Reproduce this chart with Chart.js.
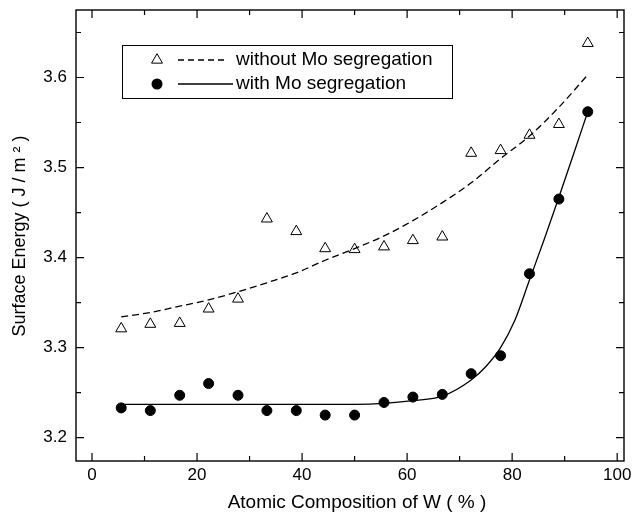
<!DOCTYPE html>
<html>
<head>
<meta charset="utf-8">
<script src="https://cdn.jsdelivr.net/npm/chart.js@4"></script>
<style>
  html, body { margin: 0; padding: 0; background: #fff; }
  #wrap { width: 634px; height: 515px; }
</style>
</head>
<body>
<div id="wrap"><canvas id="chart" width="634" height="515"></canvas></div>
<script>
// measured points (W content in %, surface energy in J/m^2)
const compW = [5.56, 11.1, 16.7, 22.2, 27.8, 33.3, 38.9, 44.4, 50.0, 55.6, 61.1, 66.7, 72.2, 77.8, 83.3, 88.9, 94.4];
const energyNoSeg = [3.321, 3.326, 3.327, 3.343, 3.354, 3.443, 3.429, 3.410, 3.409, 3.412, 3.419, 3.423, 3.516, 3.519, 3.536, 3.548, 3.638];
const energySeg = [3.233, 3.230, 3.247, 3.260, 3.247, 3.230, 3.230, 3.225, 3.225, 3.239, 3.245, 3.248, 3.271, 3.291, 3.382, 3.465, 3.562];

// fitted curves
const fitNoSegX = [5.56, 11.1, 16.7, 22.2, 27.8, 33.3, 38.9, 44.4, 50.0, 55.6, 61.1, 66.7, 72.2, 77.8, 83.3, 88.9, 94.4];
const fitNoSegY = [3.334, 3.339, 3.346, 3.353, 3.362, 3.372, 3.383, 3.397, 3.410, 3.424, 3.441, 3.461, 3.483, 3.510, 3.535, 3.567, 3.603];
const fitSegX = [5.56, 16.7, 27.8, 38.9, 50.0, 55.6, 61.1, 66.7, 72.2, 75.0, 77.8, 80.5, 83.3, 86.1, 88.9, 91.7, 94.4];
const fitSegY = [3.237, 3.237, 3.237, 3.237, 3.237, 3.238, 3.241, 3.246, 3.264, 3.279, 3.300, 3.330, 3.375, 3.420, 3.467, 3.515, 3.562];

const xTicks = [0, 20, 40, 60, 80, 100];
const xMinor = [10, 30, 50, 70, 90];
const yTicks = [3.2, 3.3, 3.4, 3.5, 3.6];
const yMinor = [3.25, 3.35, 3.45, 3.55, 3.65];

const xTitle = 'Atomic Composition of W ( % )';
const yTitle = 'Surface Energy ( J / m ² )';
const legendItems = ['without Mo segregation', 'with Mo segregation'];

const FONT = '"Liberation Sans", Arial, sans-serif';
const pts = (xs, ys) => xs.map((x, i) => ({x: x, y: ys[i]}));

// frame with inward ticks on all four sides, axis titles, boxed legend
const framePlugin = {
    id: 'frame',
    afterDatasetsDraw(chart) {
        const ctx = chart.ctx;
        const a = chart.chartArea;
        const xs = chart.scales.x, ys = chart.scales.y;
        ctx.save();
        ctx.strokeStyle = '#000';
        ctx.lineWidth = 1.4;
        ctx.strokeRect(a.left, a.top, a.right - a.left, a.bottom - a.top);
        ctx.lineWidth = 1.2;
        const tick = (vals, len) => {
            vals.forEach(v => {
                const px = xs.getPixelForValue(v);
                ctx.beginPath();
                ctx.moveTo(px, a.bottom); ctx.lineTo(px, a.bottom - len);
                ctx.moveTo(px, a.top); ctx.lineTo(px, a.top + len);
                ctx.stroke();
            });
        };
        tick(xTicks, 8);
        tick(xMinor, 5);
        const ytick = (vals, len) => {
            vals.forEach(v => {
                const py = ys.getPixelForValue(v);
                ctx.beginPath();
                ctx.moveTo(a.left, py); ctx.lineTo(a.left + len, py);
                ctx.moveTo(a.right, py); ctx.lineTo(a.right - len, py);
                ctx.stroke();
            });
        };
        ytick(yTicks, 8);
        ytick(yMinor, 5);

        // axis titles
        ctx.fillStyle = '#000';
        ctx.textAlign = 'center';
        ctx.textBaseline = 'middle';
        ctx.font = '19px ' + FONT;
        ctx.fillText(xTitle, 357, 503);
        ctx.save();
        ctx.translate(20, 236);
        ctx.rotate(-Math.PI / 2);
        ctx.font = '18px ' + FONT;
        ctx.fillText(yTitle, 0, 0);
        ctx.restore();

        // legend box
        const bx = 122, by = 45, bw = 330, bh = 53;
        ctx.fillStyle = '#fff';
        ctx.fillRect(bx, by, bw, bh);
        ctx.lineWidth = 1;
        ctx.strokeRect(bx + 0.5, by + 0.5, bw, bh);
        ctx.fillStyle = '#000';
        ctx.textAlign = 'left';
        ctx.font = '19px ' + FONT;
        const r1 = 60, r2 = 84;
        // open triangle
        const r = 6.3;
        ctx.beginPath();
        ctx.moveTo(157, r1 - r);
        ctx.lineTo(157 + r * 0.866, r1 + r / 2);
        ctx.lineTo(157 - r * 0.866, r1 + r / 2);
        ctx.closePath();
        ctx.stroke();
        // filled circle
        ctx.beginPath();
        ctx.arc(157, r2, 5.5, 0, Math.PI * 2);
        ctx.fill();
        ctx.lineWidth = 1.3;
        ctx.setLineDash([6, 4]);
        ctx.beginPath();
        ctx.moveTo(178, r1); ctx.lineTo(224, r1);
        ctx.stroke();
        ctx.setLineDash([]);
        ctx.beginPath();
        ctx.moveTo(178, r2); ctx.lineTo(233, r2);
        ctx.stroke();
        ctx.fillText(legendItems[0], 236, r1);
        ctx.fillText(legendItems[1], 236, r2);
        ctx.restore();
    }
};

const ctx = document.getElementById('chart').getContext('2d');
new Chart(ctx, {
    type: 'scatter',
    data: {
        datasets: [
            {
                data: pts(fitNoSegX, fitNoSegY),
                showLine: true, pointRadius: 0,
                borderColor: '#000', borderWidth: 1.3, borderDash: [7, 4],
                cubicInterpolationMode: 'monotone'
            },
            {
                data: pts(fitSegX, fitSegY),
                showLine: true, pointRadius: 0,
                borderColor: '#000', borderWidth: 1.3,
                cubicInterpolationMode: 'monotone'
            },
            {
                data: pts(compW, energyNoSeg),
                pointStyle: 'triangle', pointRadius: 6.3,
                borderColor: '#000', backgroundColor: 'rgba(0,0,0,0)', borderWidth: 1
            },
            {
                data: pts(compW, energySeg),
                pointStyle: 'circle', pointRadius: 5,
                borderColor: '#000', backgroundColor: '#000', borderWidth: 1
            }
        ]
    },
    options: {
        responsive: false,
        animation: false,
        layout: { padding: { top: 10, right: 10, left: 0, bottom: 0 } },
        plugins: { legend: { display: false }, tooltip: { enabled: false } },
        scales: {
            x: {
                type: 'linear', min: -3.05, max: 101.3,
                grid: { display: false, drawTicks: false },
                border: { display: false },
                afterBuildTicks: s => { s.ticks = xTicks.map(v => ({value: v})); },
                afterFit: s => { s.height = 54; s.paddingLeft = 0; s.paddingRight = 0; },
                ticks: {
                    padding: 4, color: '#000',
                    font: { size: 17, family: FONT },
                    callback: v => String(v)
                }
            },
            y: {
                type: 'linear', min: 3.174, max: 3.675,
                grid: { display: false, drawTicks: false },
                border: { display: false },
                afterBuildTicks: s => { s.ticks = yTicks.map(v => ({value: v})); },
                afterFit: s => { s.width = 76; s.paddingTop = 0; s.paddingBottom = 0; },
                ticks: {
                    padding: 9, color: '#000',
                    font: { size: 17, family: FONT },
                    callback: v => v.toFixed(1)
                }
            }
        }
    },
    plugins: [framePlugin]
});
</script>
</body>
</html>
